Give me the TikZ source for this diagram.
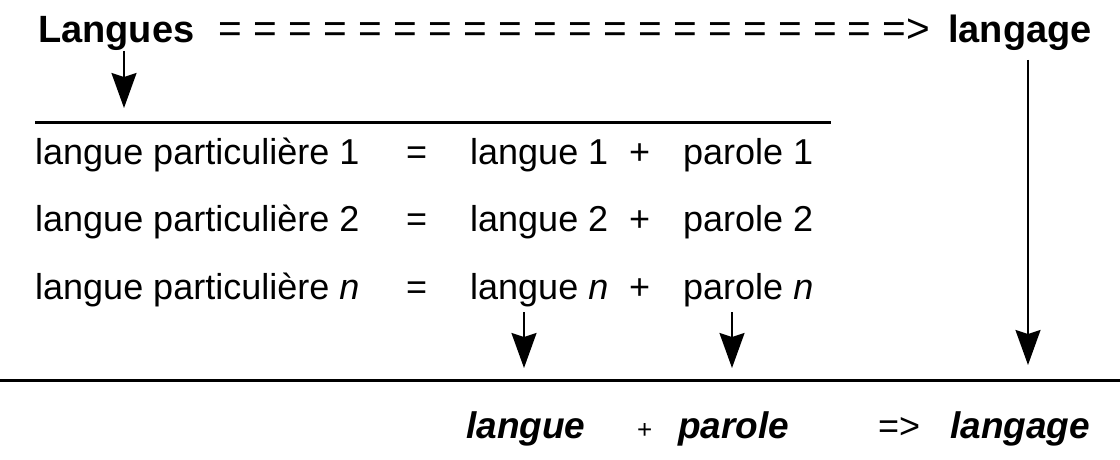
\documentclass[tikz,border=0pt]{standalone}
\usepackage{fontspec}
\setmainfont{Liberation Sans}
\usetikzlibrary{arrows.meta}
\begin{document}
\begin{tikzpicture}[x=1pt,y=-1pt,
  every node/.style={inner sep=0pt, anchor=base west},
  title/.style={font=\fontsize{38}{42}\selectfont\bfseries},
  chain/.style={font=\fontsize{40.6}{44}\selectfont},
  row/.style={font=\fontsize{36}{40}\selectfont},
  result/.style={font=\fontsize{37}{41}\selectfont\bfseries\itshape},
  small/.style={font=\fontsize{26}{30}\selectfont},
  rule/.style={line width=3pt},
  down/.style={line width=2pt, -{Stealth[length=35pt,width=25pt,inset=4pt]}}]
\useasboundingbox (0,0) rectangle (1120,460);

% heading: Langues ==> langage
\node[title] (Langues) at (38,43) {Langues};
\node[chain] (eqs) at (218,43) {= = = = = = = = = = = = = = = = = = = =>};
\node[title] (langage) at (948,43) {langage};

% first rule
\coordinate (r1a) at (35,122);
\coordinate (r1b) at (831,122);
\draw[rule] (r1a) -- (r1b);

% particular languages
\foreach \y/\k/\tag in {164/1/a, 231/2/b, 299/\textit{n}/c} {
  \node[row] (lp\tag) at (35,\y) {langue particulière \k};
  \node[row] (eq\tag) at (406,\y) {=};
  \node[row] (lg\tag) at (470,\y) {langue \k};
  \node[row] (pl\tag) at (629,\y) {+};
  \node[row] (pr\tag) at (683,\y) {parole \k};
}

% second rule
\coordinate (r2a) at (0,380);
\coordinate (r2b) at (1120,380);
\draw[rule] (r2a) -- (r2b);

% result line
\node[result] (langue) at (466,438) {langue};
\node[small] (plus) at (637,438) {+};
\node[result] (parole) at (678,438) {parole};
\node[row] (impl) at (878,438) {=>};
\node[result] (langageR) at (950,438) {langage};

% arrows
\coordinate (tA) at (124,108);
\coordinate (tB) at (1028,365);
\coordinate (tC) at (524,368);
\coordinate (tD) at (732,368);
\coordinate (sA) at (124,51);
\coordinate (sB) at (1028,60);
\coordinate (sC) at (524,312);
\coordinate (sD) at (732,312);
\draw[down] (sA) -- (tA);
\draw[down] (sB) -- (tB);
\draw[down] (sC) -- (tC);
\draw[down] (sD) -- (tD);
\end{tikzpicture}
\end{document}
